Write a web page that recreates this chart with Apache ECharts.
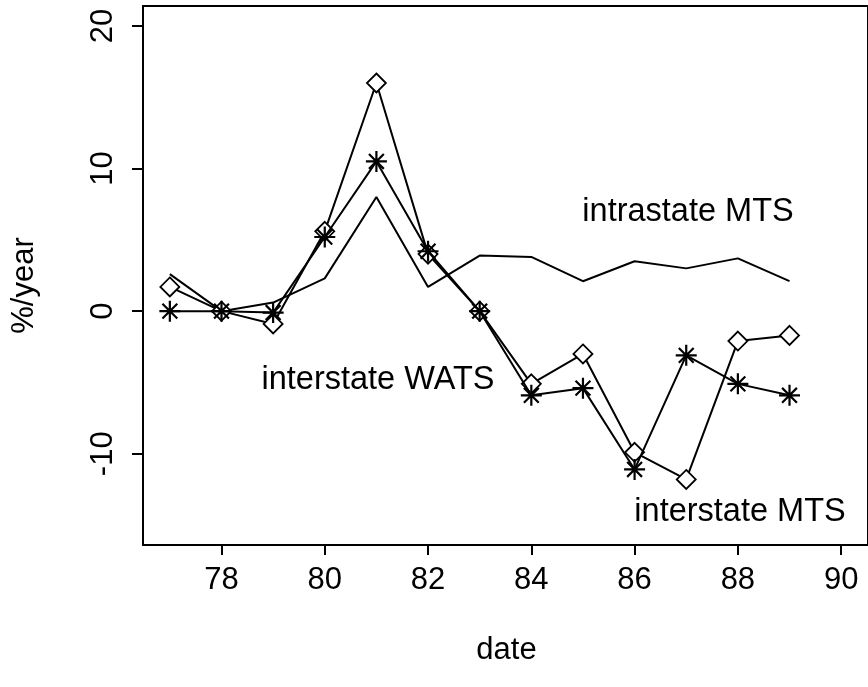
<!DOCTYPE html>
<html>
<head>
<meta charset="utf-8">
<script src="https://cdn.jsdelivr.net/npm/echarts@6/dist/echarts.min.js"></script>
<style>
  html, body { margin: 0; padding: 0; background: #fff; }
  #chart { width: 868px; height: 687px; }
</style>
</head>
<body>
<div id="chart"></div>
<script>
// Annual growth of telephone traffic (%/year) by year, 1977–1989
const years = [77, 78, 79, 80, 81, 82, 83, 84, 85, 86, 87, 88, 89];
const interstateMTS  = [1.7, 0, -0.9, 5.6, 16.0, 4.0, 0, -5.1, -3.0, -9.9, -11.8, -2.1, -1.7];
const interstateWATS = [0, 0, -0.1, 5.2, 10.5, 4.2, 0, -5.9, -5.4, -11.1, -3.1, -5.1, -5.9];
const intrastateMTS  = [2.6, 0, 0.6, 2.3, 8.0, 1.7, 3.9, 3.8, 2.1, 3.5, 3.0, 3.7, 2.1];

const xTicks = [78, 80, 82, 84, 86, 88, 90];
const yTicks = [-10, 0, 10, 20];

const FONT = '"Liberation Sans", Arial, Helvetica, sans-serif';
const FS = 31;
const FS_NOTE = 32.5;

const pairs = (ys) => years.map((x, i) => [x, ys[i]]);

// asterisk: a plus and a cross drawn as strokes
const STAR = 'path://M10,0L10,20M0,10L20,10M2.93,2.93L17.07,17.07M2.93,17.07L17.07,2.93';

const chart = echarts.init(document.getElementById('chart'), null, { renderer: 'canvas' });

chart.setOption({
  animation: false,
  backgroundColor: '#fff',
  grid: {
    left: 143, top: 6, width: 726, height: 539,
    show: true, borderColor: '#000', borderWidth: 2, backgroundColor: 'transparent'
  },
  xAxis: {
    type: 'value', min: 76.48, max: 90.52,
    axisLine: { show: true, onZero: false, lineStyle: { color: '#000', width: 2 } },
    axisTick: { show: true, length: 10, lineStyle: { color: '#000', width: 2 }, customValues: xTicks },
    axisLabel: { show: true, margin: 20, color: '#000', fontSize: FS, fontFamily: FONT, customValues: xTicks },
    splitLine: { show: false }
  },
  yAxis: {
    type: 'value', min: -16.4, max: 21.4,
    axisLine: { show: true, onZero: false, lineStyle: { color: '#000', width: 2 } },
    axisTick: { show: true, length: 11, lineStyle: { color: '#000', width: 2 }, customValues: yTicks },
    axisLabel: { show: true, margin: 24, rotate: 90, color: '#000', fontSize: FS, fontFamily: FONT, customValues: yTicks },
    splitLine: { show: false }
  },
  series: [
    {
      name: 'intrastate MTS', type: 'line', data: pairs(intrastateMTS),
      showSymbol: false, symbol: 'none',
      lineStyle: { color: '#000', width: 2 }, z: 2
    },
    {
      name: 'interstate MTS', type: 'line', data: pairs(interstateMTS),
      symbol: 'diamond', symbolSize: 19, showAllSymbol: true,
      lineStyle: { color: '#000', width: 2 },
      itemStyle: { color: '#fff', borderColor: '#000', borderWidth: 1.8 }, z: 3
    },
    {
      name: 'interstate WATS', type: 'line', data: pairs(interstateWATS),
      symbol: STAR, symbolSize: 21, showAllSymbol: true,
      lineStyle: { color: '#000', width: 2 },
      itemStyle: { color: 'transparent', borderColor: '#000', borderWidth: 2.2 }, z: 4
    }
  ],
  graphic: [
    { type: 'text', x: 688, y: 212, style: { text: 'intrastate MTS', font: FS_NOTE + 'px ' + FONT, fill: '#000', align: 'center', verticalAlign: 'middle' } },
    { type: 'text', x: 378, y: 380, style: { text: 'interstate WATS', font: FS_NOTE + 'px ' + FONT, fill: '#000', align: 'center', verticalAlign: 'middle' } },
    { type: 'text', x: 740, y: 512, style: { text: 'interstate MTS', font: FS_NOTE + 'px ' + FONT, fill: '#000', align: 'center', verticalAlign: 'middle' } },
    { type: 'text', x: 506.5, y: 650, style: { text: 'date', font: FS + 'px ' + FONT, fill: '#000', align: 'center', verticalAlign: 'middle' } },
    { type: 'text', x: 24, y: 285.5, rotation: Math.PI / 2, style: { text: '%/year', font: FS + 'px ' + FONT, fill: '#000', align: 'center', verticalAlign: 'middle' } }
  ]
});
</script>
</body>
</html>
